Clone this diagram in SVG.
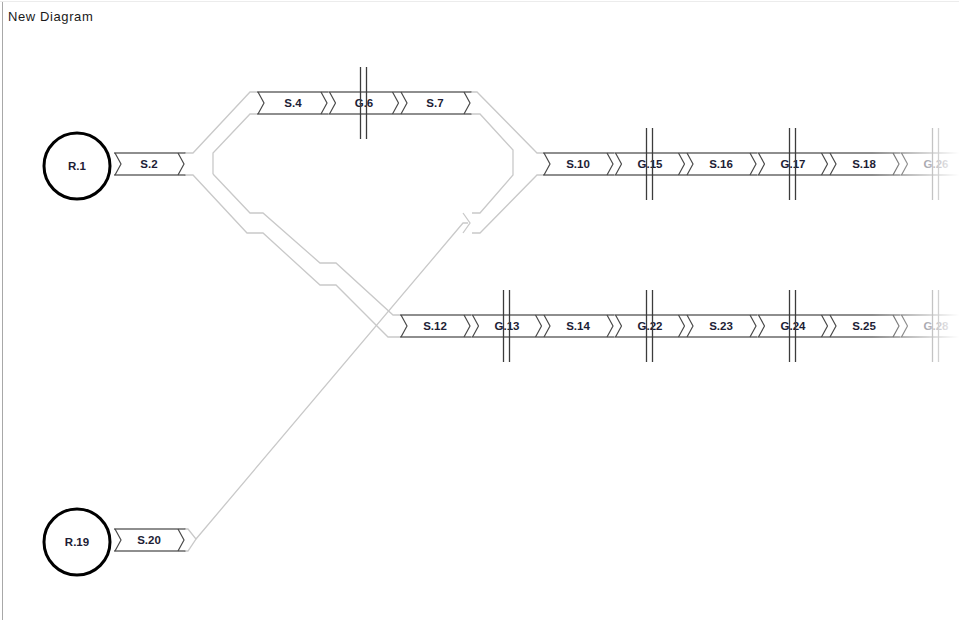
<svg xmlns="http://www.w3.org/2000/svg" width="959" height="620" viewBox="0 0 959 620">
<defs>
<style>
.band{fill:#fff;stroke:none}
.edge{stroke:#6a6a6a;stroke-width:1.5;fill:none}
.chev{stroke:#4a4a4a;stroke-width:1.2;fill:none;stroke-linejoin:miter}
.lbl{font-family:"Liberation Sans",Arial,sans-serif;font-weight:bold;font-size:11.5px;fill:#1d1d35;text-anchor:middle}
.gate{stroke:#3c3c3c;stroke-width:1.3}
.rail{stroke:#c9c9c9;stroke-width:1.3;fill:none;stroke-linejoin:miter}
.ring{fill:#fff;stroke:#000;stroke-width:3}
</style>
<g id="seg">
<rect class="band" x="0" y="0" width="71.5" height="22"/>
<path class="edge" d="M0,0H71.5M0,22H71.5"/>
<path class="chev" d="M1,0L7,11L1,22M64,0L70,11L64,22"/>
</g>
<linearGradient id="fade" x1="0" y1="0" x2="1" y2="0">
<stop offset="0" stop-color="#fff" stop-opacity="0"/>
<stop offset="1" stop-color="#fff" stop-opacity="1"/>
</linearGradient>
</defs>
<rect width="959" height="620" fill="#fff"/>
<line x1="0" y1="1.5" x2="959" y2="1.5" stroke="#ececec"/>
<line x1="2.5" y1="2" x2="2.5" y2="620" stroke="#a8a8a8"/>
<text x="8" y="21" font-family="'Liberation Sans',Arial,sans-serif" font-size="13" letter-spacing="0.6" fill="#1a1a1a">New Diagram</text>

<g id="connectors">
<polyline class="rail" points="184,153 193,153 250,92 257,92"/>
<polyline class="rail" points="257,114 250,114 213,153 213,174"/>
<polyline class="rail" points="213,174 250,213 263,213 320,263 336,263 393,315 400,315"/>
<polyline class="rail" points="184,175 193,175 247,233 263,233 320,285 336,285 388,337 400,337"/>
<polyline class="rail" points="470,92 477,92 537,153 543,153"/>
<polyline class="rail" points="470,114 480,114 513,150 513,175 480,213 472,213"/>
<polyline class="rail" points="543,175 537,175 480,233 472,233"/>
<polyline class="rail" points="184,529 188,529 196,539 188,551 184,551"/>
<polyline class="rail" points="196,539 463,223 468,223"/>
<polyline class="rail" points="463,213 470,223 463,233"/>
</g>

<g id="R.1"><circle class="ring" cx="77" cy="166" r="33"/><text class="lbl" x="77" y="170">R.1</text></g>
<g id="S.2"><use href="#seg" x="114" y="153"/><text class="lbl" x="149" y="168">S.2</text></g>
<g id="S.4"><use href="#seg" x="257" y="92"/><text class="lbl" x="293" y="107">S.4</text></g>
<g id="G.6"><use href="#seg" x="328.5" y="92"/><text class="lbl" x="364" y="107">G.6</text><line class="gate" x1="360.5" y1="67" x2="360.5" y2="139"/><line class="gate" x1="366.5" y1="67" x2="366.5" y2="139"/></g>
<g id="S.7"><use href="#seg" x="400" y="92"/><text class="lbl" x="435" y="107">S.7</text></g>

<g id="S.10"><use href="#seg" x="543" y="153"/><text class="lbl" x="578" y="168">S.10</text></g>
<g id="G.15"><use href="#seg" x="614.5" y="153"/><text class="lbl" x="650" y="168">G.15</text><line class="gate" x1="646.5" y1="128" x2="646.5" y2="200"/><line class="gate" x1="652.5" y1="128" x2="652.5" y2="200"/></g>
<g id="S.16"><use href="#seg" x="686" y="153"/><text class="lbl" x="721" y="168">S.16</text></g>
<g id="G.17"><use href="#seg" x="757.5" y="153"/><text class="lbl" x="793" y="168">G.17</text><line class="gate" x1="789.5" y1="128" x2="789.5" y2="200"/><line class="gate" x1="795.5" y1="128" x2="795.5" y2="200"/></g>
<g id="S.18"><use href="#seg" x="829" y="153"/><text class="lbl" x="864" y="168">S.18</text></g>
<g id="G.26"><use href="#seg" x="900.5" y="153"/><text class="lbl" x="936" y="168">G.26</text><line class="gate" x1="932.5" y1="128" x2="932.5" y2="200"/><line class="gate" x1="938.5" y1="128" x2="938.5" y2="200"/></g>

<g id="S.12"><use href="#seg" x="400" y="315"/><text class="lbl" x="435" y="330">S.12</text></g>
<g id="G.13"><use href="#seg" x="471.5" y="315"/><text class="lbl" x="507" y="330">G.13</text><line class="gate" x1="503.5" y1="290" x2="503.5" y2="362"/><line class="gate" x1="509.5" y1="290" x2="509.5" y2="362"/></g>
<g id="S.14"><use href="#seg" x="543" y="315"/><text class="lbl" x="578" y="330">S.14</text></g>
<g id="G.22"><use href="#seg" x="614.5" y="315"/><text class="lbl" x="650" y="330">G.22</text><line class="gate" x1="646.5" y1="290" x2="646.5" y2="362"/><line class="gate" x1="652.5" y1="290" x2="652.5" y2="362"/></g>
<g id="S.23"><use href="#seg" x="686" y="315"/><text class="lbl" x="721" y="330">S.23</text></g>
<g id="G.24"><use href="#seg" x="757.5" y="315"/><text class="lbl" x="793" y="330">G.24</text><line class="gate" x1="789.5" y1="290" x2="789.5" y2="362"/><line class="gate" x1="795.5" y1="290" x2="795.5" y2="362"/></g>
<g id="S.25"><use href="#seg" x="829" y="315"/><text class="lbl" x="864" y="330">S.25</text></g>
<g id="G.28"><use href="#seg" x="900.5" y="315"/><text class="lbl" x="936" y="330">G.28</text><line class="gate" x1="932.5" y1="290" x2="932.5" y2="362"/><line class="gate" x1="938.5" y1="290" x2="938.5" y2="362"/></g>

<g id="R.19"><circle class="ring" cx="77" cy="542" r="33"/><text class="lbl" x="77" y="546">R.19</text></g>
<g id="S.20"><use href="#seg" x="114" y="529"/><text class="lbl" x="149" y="544">S.20</text></g>

<rect x="872" y="60" width="87" height="320" fill="url(#fade)"/>
</svg>
